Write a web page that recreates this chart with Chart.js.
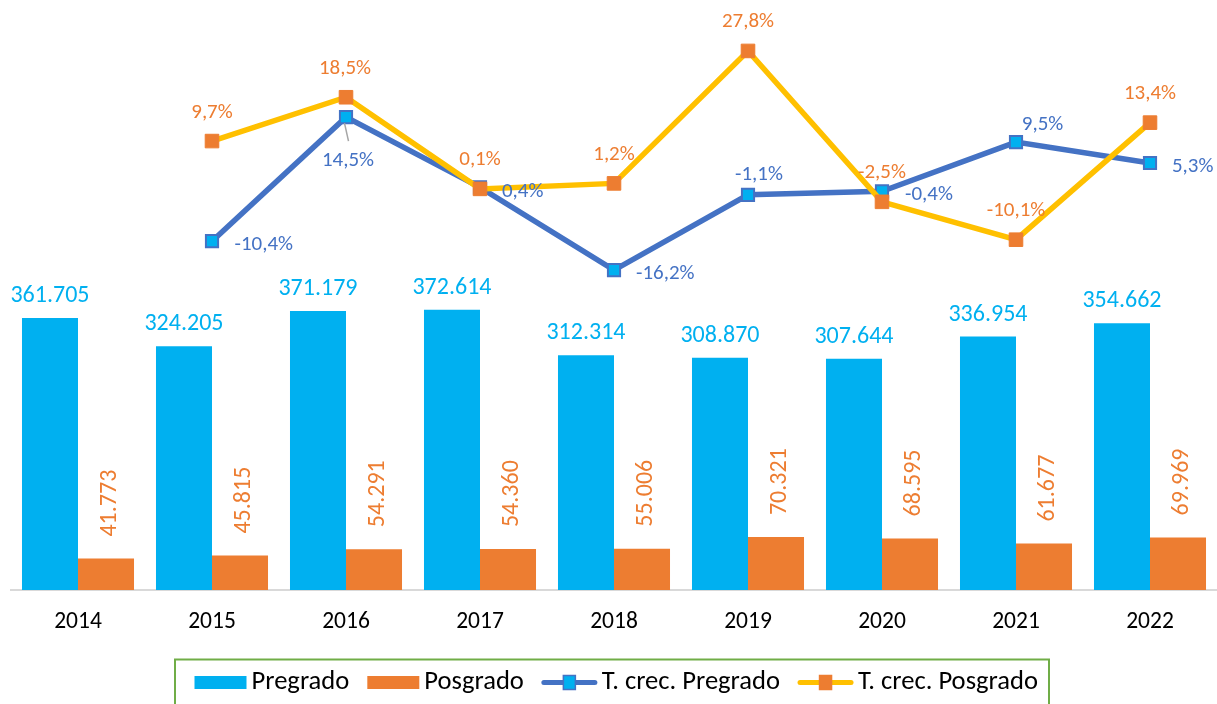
<!DOCTYPE html>
<html><head><meta charset="utf-8">
<script src="https://cdn.jsdelivr.net/npm/chart.js@4.4.1/dist/chart.umd.min.js"></script>
<style>html,body{margin:0;padding:0;background:#fff;overflow:hidden}#wrap{width:1217px;height:704px;position:relative}</style>
</head><body><div id="wrap"><canvas id="c" width="1217" height="704"></canvas></div>
<script>
// ---- data ----
const years = ['2014','2015','2016','2017','2018','2019','2020','2021','2022'];
const pregrado = [361705,324205,371179,372614,312314,308870,307644,336954,354662];
const posgrado = [41773,45815,54291,54360,55006,70321,68595,61677,69969];
const tcPregrado = [null,-10.4,14.5,0.4,-16.2,-1.1,-0.4,9.5,5.3];
const tcPosgrado = [null,9.7,18.5,0.1,1.2,27.8,-2.5,-10.1,13.4];
const seriesNames = ['Pregrado','Posgrado','T. crec. Pregrado','T. crec. Posgrado'];

// ---- label placement (style) ----
// [anchor, dx, dy] relative to the point
const preLabelPos = [null,['left',22.5,2],['center',2,42.5],['left',22,2.7],['left',22,2.5],['center',11,-21.5],['left',23,2.5],['center',26.5,-19],['left',22,2.5]];
const posLabelPos = [null,['center',0,-30],['center',-1,-30],['center',0,-30],['center',0,-30],['center',0,-30],['center',0,-30],['center',0,-30],['center',0,-30]];

const C_PRE='#00B0F0', C_POS='#ED7D31', C_LPRE='#4472C4', C_LPOS='#FFC000';

function pickFamily(){
  const c=document.createElement('canvas').getContext('2d');
  const t='T. crec. Posgrado 2014 361.705';
  c.font='40px monospace'; const m=c.measureText(t).width;
  for (const f of ['Carlito','Lato','Open Sans']) {
    c.font='40px "'+f+'", monospace';
    if (Math.abs(c.measureText(t).width-m)>0.5) return f;
  }
  return 'sans-serif';
}
const FAM = pickFamily();
const K = (function(){const c=document.createElement('canvas').getContext('2d');c.font='26px "'+FAM+'"';return 180/c.measureText('T. crec. Posgrado').width;})();
const fnt = (s)=> (s*K).toFixed(2)+'px "'+FAM+'"';

const fmtN = v => String(v).replace(/\B(?=(\d{3})+(?!\d))/g,'.');
const fmtP = v => v.toFixed(1).replace('.',',')+'%';

function metaByLabel(chart,label){
  const i = chart.data.datasets.findIndex(d=>d.label===label);
  return chart.getDatasetMeta(i);
}

const labelPlugin = {
  id:'valueLabels',
  afterDatasetsDraw(chart){
    const ctx=chart.ctx;
    ctx.save();
    // Pregrado bar labels
    ctx.font=fnt(23.5); ctx.fillStyle=C_PRE; ctx.textAlign='center'; ctx.textBaseline='alphabetic';
    metaByLabel(chart,'Pregrado').data.forEach((b,i)=>{ ctx.fillText(fmtN(pregrado[i]), b.x, b.y-16); });
    // Posgrado rotated labels
    ctx.fillStyle=C_POS; ctx.textAlign='left';
    metaByLabel(chart,'Posgrado').data.forEach((b,i)=>{
      ctx.save(); ctx.translate(b.x+9.5, b.y-22); ctx.rotate(-Math.PI/2);
      ctx.fillText(fmtN(posgrado[i]),0,0); ctx.restore();
    });
    // line labels
    ctx.font=fnt(20.5);
    const drawL=(meta,vals,pos,color)=>{
      ctx.fillStyle=color;
      meta.data.forEach((p,i)=>{
        if (vals[i]==null) return;
        const [a,dx,dy]=pos[i];
        ctx.textAlign = a==='left'?'left':'center';
        ctx.fillText(fmtP(vals[i]), p.x+dx, p.y+dy+6.5);
      });
    };
    const mPre=metaByLabel(chart,'T. crec. Pregrado');
    // leader line for 2016 label
    const p16=mPre.data[2];
    ctx.strokeStyle='#A6A6A6'; ctx.lineWidth=1.5;
    ctx.beginPath(); ctx.moveTo(p16.x-1.5,p16.y+6); ctx.lineTo(p16.x+2.5,p16.y+24); ctx.stroke();
    drawL(mPre,tcPregrado,preLabelPos,C_LPRE);
    drawL(metaByLabel(chart,'T. crec. Posgrado'),tcPosgrado,posLabelPos,C_POS);
    ctx.restore();
  }
};

const legendPlugin = {
  id:'boxLegend',
  afterDraw(chart){
    const ctx=chart.ctx;
    ctx.save();
    ctx.strokeStyle='#70AD47'; ctx.lineWidth=2;
    ctx.strokeRect(175,659.5,874,60);
    ctx.font=fnt(26); ctx.textBaseline='alphabetic'; ctx.textAlign='left';
    let x=194.5; const cy=682.5;
    seriesNames.forEach((name,i)=>{
      if (i<2){
        ctx.fillStyle = i===0?C_PRE:C_POS;
        ctx.fillRect(x,cy-6.5,52,13);
        x+=52;
      } else {
        const lc = i===2?C_LPRE:C_LPOS, mf = i===2?C_PRE:C_POS, mb = i===2?C_LPRE:C_POS;
        ctx.strokeStyle=lc; ctx.lineWidth=5; ctx.lineCap='round';
        ctx.beginPath(); ctx.moveTo(x+2,cy); ctx.lineTo(x+53,cy); ctx.stroke();
        ctx.fillStyle=mf; ctx.fillRect(x+21.5,cy-7,12,14);
        ctx.strokeStyle=mb; ctx.lineWidth=1.5; ctx.strokeRect(x+21.5,cy-7,12,14);
        x+=55;
      }
      x+=5;
      ctx.fillStyle='#000';
      ctx.fillText(name,x,cy+6.5);
      x+=ctx.measureText(name).width+18;
    });
    ctx.restore();
  }
};

const chart = new Chart(document.getElementById('c'), {
  type:'bar',
  data:{
    labels: years,
    datasets:[
      {type:'line',label:'T. crec. Posgrado',data:tcPosgrado,yAxisID:'y2',order:0,
       borderColor:C_LPOS,borderWidth:5.5,tension:0,pointStyle:'rect',pointRadius:9.6,
       pointBackgroundColor:C_POS,pointBorderColor:C_POS,pointBorderWidth:1,fill:false},
      {type:'line',label:'T. crec. Pregrado',data:tcPregrado,yAxisID:'y2',order:1,
       borderColor:C_LPRE,borderWidth:5.5,tension:0,pointStyle:'rect',pointRadius:8.6,
       pointBackgroundColor:C_PRE,pointBorderColor:C_LPRE,pointBorderWidth:2,fill:false},
      {type:'bar',label:'Pregrado',data:pregrado,yAxisID:'y',order:2,backgroundColor:C_PRE,
       categoryPercentage:0.836,barPercentage:1},
      {type:'bar',label:'Posgrado',data:posgrado,yAxisID:'y',order:3,backgroundColor:C_POS,
       categoryPercentage:0.836,barPercentage:1}
    ]
  },
  options:{
    responsive:false, animation:false, devicePixelRatio:1,
    layout:{autoPadding:false,padding:{left:11,right:0,top:10,bottom:74}},
    plugins:{legend:{display:false},tooltip:{enabled:false}},
    scales:{
      x:{grid:{display:false,drawTicks:false},border:{display:true,color:'#D9D9D9',width:2},
         ticks:{color:'#000',font:{family:FAM,size:23*K},padding:18},
         afterFit:(s)=>{s.height=40;}},
      y:{display:false,min:0,max:771300},
      y2:{display:false,min:-80.45,max:36.02}
    }
  },
  plugins:[labelPlugin,legendPlugin]
});
</script></body></html>
